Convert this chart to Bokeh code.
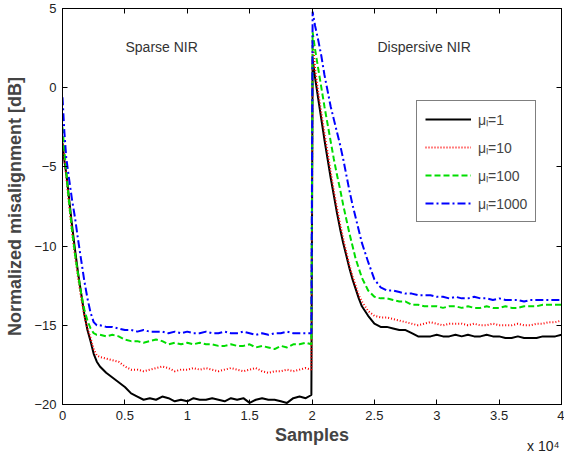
from bokeh.plotting import figure
from bokeh.models import (FixedTicker, LinearAxis, Legend, LegendItem, Label,
                          CustomJSTickFormatter, Range1d, Title)
from bokeh.embed import file_html
from bokeh.resources import INLINE

# ---------------- data ----------------
x = [0, 150, 300, 500, 750, 1000, 1250, 1500, 1750, 2000, 2250, 2500, 2750, 3000,
     3500, 4000, 4500, 5000, 5500, 6000, 6500, 7000, 7500, 8000, 8500, 9000, 9500,
     10000, 10500, 11000, 11500, 12000, 12500, 13000, 13500, 14000, 14500, 15000,
     15500, 16000, 16500, 17000, 17500, 18000, 18500, 19000, 19500, 19950,
     20050, 20250, 20500, 20750, 21000, 21250, 21500, 21750, 22000, 22250, 22500,
     22750, 23000, 23250, 23500, 23750, 24000, 24500, 25000, 25500, 26000, 26500,
     27000, 27500, 28000, 28500, 29000, 29500, 30000, 30500, 31000, 31500, 32000,
     32500, 33000, 33500, 34000, 34500, 35000, 35500, 36000, 36500, 37000, 37500,
     38000, 38500, 39000, 39500, 40000]

mu1 = [-3.5, -4.6, -5.4, -6.8, -8.6, -10.2, -11.7, -13.0, -14.3, -15.3, -16.0, -16.8,
       -17.3, -17.6, -18.0, -18.3, -18.6, -18.9, -19.3, -19.5, -19.7, -19.6, -19.7,
       -19.5, -19.6, -19.8, -19.7, -19.8, -19.6, -19.7, -19.7, -19.6, -19.7, -19.8,
       -19.6, -19.7, -19.6, -19.9, -19.7, -19.6, -19.7, -19.7, -19.8, -19.9, -19.6,
       -19.5, -19.6, -19.4,
       1.8, 0.6, -0.7, -2.0, -3.3, -4.5, -5.7, -6.8, -7.9, -8.9, -9.8, -10.6, -11.4,
       -12.1, -12.7, -13.3, -13.8, -14.4, -14.9, -15.1, -15.1, -15.2, -15.3, -15.3,
       -15.5, -15.7, -15.7, -15.7, -15.6, -15.7, -15.7, -15.6, -15.7, -15.6, -15.7,
       -15.7, -15.6, -15.7, -15.7, -15.8, -15.8, -15.7, -15.8, -15.8, -15.8, -15.7,
       -15.7, -15.7, -15.6]

mu10 = [-3.2, -4.5, -5.6, -7.2, -9.0, -10.6, -12.0, -13.3, -14.4, -15.2, -15.8, -16.5,
        -16.9, -17.0, -17.1, -17.2, -17.3, -17.6, -17.8, -17.8, -17.9, -17.8, -17.7,
        -17.6, -17.7, -17.9, -17.8, -17.8, -17.7, -17.8, -17.7, -17.8, -17.9, -17.8,
        -17.7, -17.8, -17.9, -17.8, -17.7, -17.9, -18.0, -17.9, -17.9, -17.8, -17.9,
        -17.8, -17.7, -17.8,
        3.0, 1.2, -0.3, -1.6, -2.9, -4.1, -5.3, -6.5, -7.6, -8.6, -9.5, -10.4, -11.2,
        -11.9, -12.5, -13.1, -13.5, -14.1, -14.4, -14.5, -14.5, -14.6, -14.7, -14.8,
        -14.9, -15.0, -14.9, -14.8, -14.9, -15.0, -14.9, -14.9, -14.9, -15.0, -14.9,
        -15.0, -15.0, -14.9, -15.0, -15.0, -15.0, -14.9, -15.0, -15.0, -14.9, -14.9,
        -14.8, -14.8, -14.7]

mu100 = [-2.5, -4.0, -5.3, -7.0, -8.9, -10.5, -11.8, -13.0, -14.0, -14.7, -15.2, -15.5,
         -15.6, -15.6, -15.7, -15.6, -15.7, -15.9, -16.0, -16.0, -16.1, -16.0, -15.9,
         -16.0, -16.2, -16.1, -16.2, -16.1, -16.2, -16.1, -16.2, -16.2, -16.3, -16.3,
         -16.2, -16.3, -16.3, -16.2, -16.4, -16.3, -16.4, -16.5, -16.3, -16.4, -16.2,
         -16.2, -16.1, -16.2,
         3.5, 2.4, 1.2, 0.0, -1.2, -2.3, -3.4, -4.5, -5.5, -6.4, -7.4, -8.3, -9.2,
         -10.0, -10.8, -11.4, -12.0, -12.8, -13.2, -13.3, -13.3, -13.4, -13.5, -13.5,
         -13.7, -13.7, -13.8, -13.8, -13.8, -13.9, -13.8, -13.8, -13.9, -13.8, -13.9,
         -13.9, -13.8, -13.9, -13.9, -13.8, -13.9, -13.9, -13.8, -13.8, -13.8, -13.7,
         -13.7, -13.7, -13.7]

mu1000 = [-0.6, -2.8, -4.4, -5.6, -7.0, -8.2, -9.6, -10.9, -12.2, -13.3, -14.2, -14.8,
          -15.0, -15.0, -15.1, -15.1, -15.2, -15.3, -15.3, -15.4, -15.3, -15.4, -15.4,
          -15.4, -15.5, -15.4, -15.5, -15.4, -15.5, -15.5, -15.4, -15.5, -15.5, -15.4,
          -15.5, -15.5, -15.4, -15.5, -15.6, -15.5, -15.6, -15.5, -15.5, -15.4, -15.5,
          -15.5, -15.5, -15.5,
          4.8, 3.9, 3.0, 2.0, 0.8, -0.2, -1.2, -2.0, -2.8, -3.6, -4.5, -5.5, -6.5,
          -7.4, -8.2, -9.0, -9.8, -11.0, -12.1, -12.6, -12.8, -12.8, -12.9, -13.0,
          -13.0, -13.1, -13.1, -13.1, -13.2, -13.2, -13.3, -13.2, -13.3, -13.3, -13.2,
          -13.3, -13.3, -13.4, -13.3, -13.4, -13.4, -13.4, -13.5, -13.4, -13.4, -13.4,
          -13.4, -13.4, -13.4]

series_labels = ["μₗ=1", "μₗ=10", "μₗ=100", "μₗ=1000"]
x_ticks = [0, 5000, 10000, 15000, 20000, 25000, 30000, 35000, 40000]
x_tick_labels = ["0", "0.5", "1", "1.5", "2", "2.5", "3", "3.5", "4"]
y_ticks = [-20, -15, -10, -5, 0, 5]

FONT = "Liberation Sans"

p = figure(width=564, height=455, output_backend="svg", toolbar_location=None,
           x_range=Range1d(0, 40000), y_range=Range1d(-20, 5),
           min_border_left=62, min_border_right=3, min_border_top=8,
           min_border_bottom=51)
p.grid.visible = False
p.outline_line_color = "black"
p.outline_line_width = 1
p.background_fill_color = "white"
p.border_fill_color = "white"

def style_axis(ax, show_labels):
    ax.minor_tick_line_color = None
    ax.major_tick_in = 5
    ax.major_tick_out = 0
    ax.axis_line_color = "black"
    ax.major_tick_line_color = "black"
    ax.major_label_text_font = FONT
    ax.major_label_text_font_size = "13px"
    ax.major_label_text_color = "#222222"
    if not show_labels:
        ax.formatter = CustomJSTickFormatter(code="return ''")
        ax.major_label_text_font_size = "0px"
        ax.major_label_standoff = 0

xax = p.xaxis[0]
xax.ticker = FixedTicker(ticks=x_ticks)
xax.major_label_overrides = {t: l for t, l in zip(x_ticks, x_tick_labels)}
style_axis(xax, True)
xax.major_label_standoff = 6
xax.axis_label = "Samples"
xax.axis_label_text_font = FONT
xax.axis_label_text_font_style = "bold"
xax.axis_label_text_font_size = "18px"
xax.axis_label_standoff = 2

yax = p.yaxis[0]
yax.ticker = FixedTicker(ticks=y_ticks)
style_axis(yax, True)
yax.major_label_standoff = 6
yax.axis_label = "Normalized misalignment [dB]"
yax.axis_label_text_font = FONT
yax.axis_label_text_font_style = "bold"
yax.axis_label_text_font_size = "18px"
yax.axis_label_standoff = 6

top = LinearAxis(ticker=FixedTicker(ticks=x_ticks))
style_axis(top, False)
p.add_layout(top, "above")
right = LinearAxis(ticker=FixedTicker(ticks=y_ticks))
style_axis(right, False)
p.add_layout(right, "right")

p.add_layout(Title(text="x 10⁴", align="right", vertical_align="top",
                   text_font=FONT, text_font_size="14px",
                   text_font_style="normal", text_color="#222222",
                   standoff=-19, offset=2), "below")

r1 = p.line(x, mu1, line_color="black", line_width=2)
r2 = p.line(x, mu10, line_color="red", line_width=2, line_dash="1 2")
r3 = p.line(x, mu100, line_color="#00dd00", line_width=2, line_dash="6 3")
r4 = p.line(x, mu1000, line_color="blue", line_width=2, line_dash="8 3 2 3")

legend = Legend(items=[LegendItem(label=series_labels[0], renderers=[r1]),
                       LegendItem(label=series_labels[1], renderers=[r2]),
                       LegendItem(label=series_labels[2], renderers=[r3]),
                       LegendItem(label=series_labels[3], renderers=[r4])],
                location=(354, 182), orientation="vertical",
                border_line_color="black", border_line_width=1,
                background_fill_color="white", background_fill_alpha=1,
                label_text_font=FONT, label_text_font_size="14px",
                glyph_width=46, glyph_height=20, label_height=20,
                spacing=8, padding=8, margin=0, label_standoff=7)
p.add_layout(legend, "center")

p.add_layout(Label(x=5050, y=2.54, text="Sparse NIR", text_font=FONT,
                   text_font_size="14px", text_color="#333333",
                   text_baseline="middle"))
p.add_layout(Label(x=25250, y=2.54, text="Dispersive NIR", text_font=FONT,
                   text_font_size="14px", text_color="#333333",
                   text_baseline="middle"))

open("out.html", "w").write(file_html(p, INLINE))
